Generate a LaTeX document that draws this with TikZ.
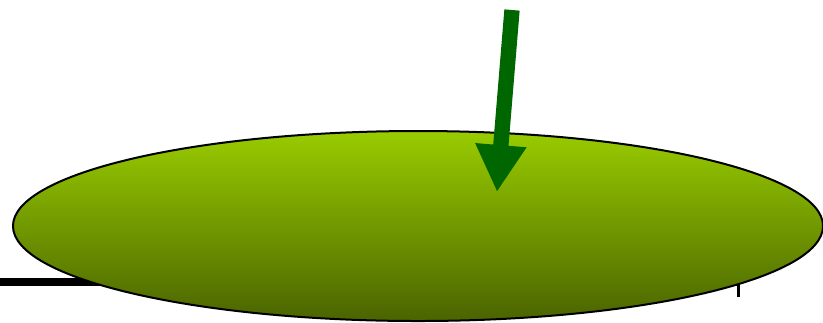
\documentclass[tikz,border=0pt]{standalone}
\usetikzlibrary{arrows.meta,shapes.geometric}
\definecolor{leaftop}{RGB}{153,204,0}
\definecolor{leafbot}{RGB}{74,100,0}
\definecolor{forcegreen}{RGB}{0,102,0}
\begin{document}
\begin{tikzpicture}[
    x=0.03cm, y=-0.03cm,
    leaf/.style={draw=black, line width=0.06cm, shape=ellipse,
                 top color=leaftop, bottom color=leafbot,
                 minimum width=24.3cm, minimum height=5.7cm, inner sep=0pt},
    rod/.style={line width=0.24cm, black},
    push/.style={-{Triangle[length=1.41cm, width=1.44cm]}, line width=0.46cm,
                 forcegreen},
]
\useasboundingbox (0,0) rectangle (823,322);

% Rod and post, partly hidden behind the disc
\coordinate (rodL) at (0,282);
\coordinate (rodR) at (738,282);
\coordinate (postB) at (738,297);
\draw[rod] (rodL) -- (rodR);
\draw[line width=0.09cm] (rodR) -- (postB);

% The disc
\node[leaf] (disc) at (418,226) {};

% Force on the disc
\coordinate (start) at (512,10);
\coordinate (tip) at (497,192);
\draw[push] (start) -- (tip);

\end{tikzpicture}
\end{document}
